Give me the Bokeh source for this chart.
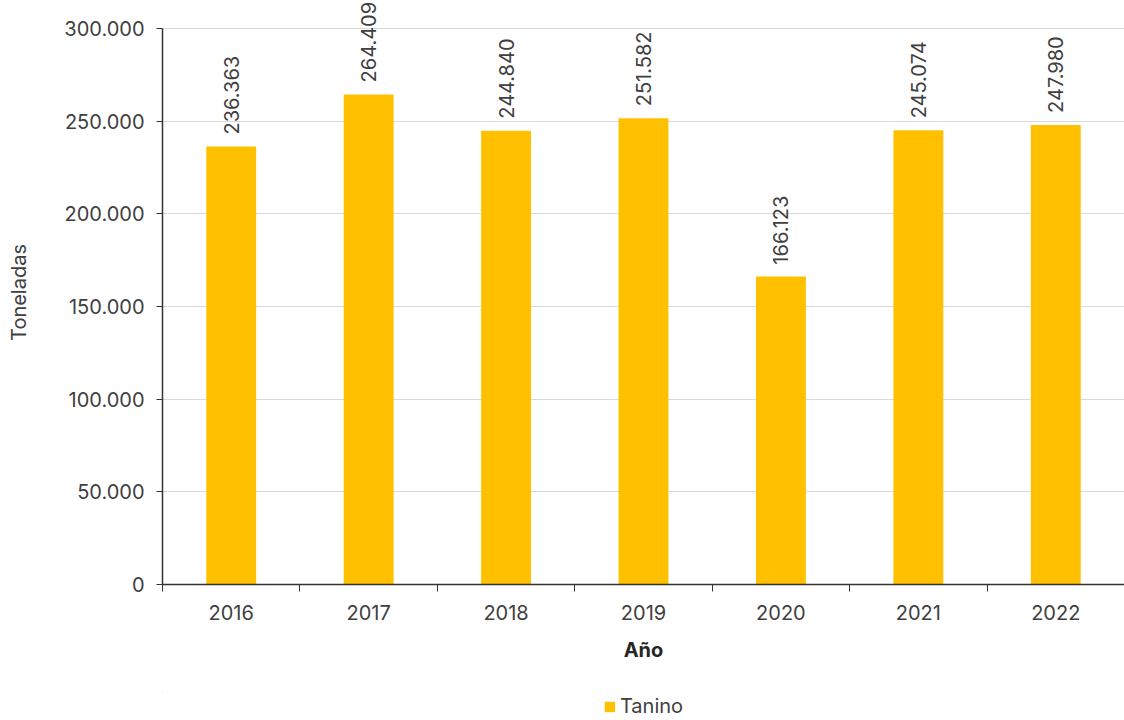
from bokeh.plotting import figure
from bokeh.layouts import column
from bokeh.models import ColumnDataSource, FixedTicker, LabelSet, Legend, LegendItem, Range1d
from bokeh.core.properties import value
from bokeh.embed import file_html
from bokeh.resources import INLINE
import math

years = ["2016", "2017", "2018", "2019", "2020", "2021", "2022"]
tanino = [236363, 264409, 244840, 251582, 166123, 245074, 247980]
y_ticks = [0, 50000, 100000, 150000, 200000, 250000, 300000]
series_name = "Tanino"

def fmt(v):
    return f"{v:,}".replace(",", ".")

xs = [i + 0.5 for i in range(len(years))]
src = ColumnDataSource(dict(x=xs, top=tanino, label=[fmt(v) for v in tanino]))

FONT = "Inter"
TXT = "#404040"
FS = "20px"
BAR = "#FFC000"

# frame: top of figure at 0, 300.000 sits 28px below it; 0 at 584
YMAX = 300000 * 584 / 556

p = figure(frame_width=962, frame_height=584, output_backend="svg", toolbar_location=None,
           x_range=Range1d(0, len(years)), y_range=Range1d(0, YMAX),
           min_border_left=162, min_border_right=0, min_border_top=0, min_border_bottom=108)
p.outline_line_color = None
p.xgrid.grid_line_color = None
p.ygrid.grid_line_color = "#d9d9d9"
p.ygrid.grid_line_width = 1

p.vbar(x="x", top="top", width=0.363, source=src, color=BAR, line_color=None)

labels = LabelSet(x="x", y="top", text="label", source=src, angle=math.pi / 2,
                  text_align="left", text_baseline="middle", y_offset=12,
                  text_font=value(FONT), text_font_size=value(FS), text_color=TXT)
p.add_layout(labels)

# y axis
p.yaxis.ticker = FixedTicker(ticks=y_ticks)
p.yaxis.bounds = (0, 300000)
p.yaxis.major_label_overrides = {t: fmt(t) for t in y_ticks}
p.yaxis.major_label_text_font = FONT
p.yaxis.major_label_text_font_size = FS
p.yaxis.major_label_text_color = TXT
p.yaxis.axis_line_color = "#333333"
p.yaxis.axis_line_width = 1.5
p.yaxis.major_tick_line_color = "#333333"
p.yaxis.major_tick_in = 0
p.yaxis.major_tick_out = 6
p.yaxis.minor_tick_line_color = None
p.yaxis.major_label_standoff = 12
p.yaxis.axis_label = "Toneladas"
p.yaxis.axis_label_text_font = FONT
p.yaxis.axis_label_text_font_size = FS
p.yaxis.axis_label_text_font_style = "normal"
p.yaxis.axis_label_text_color = TXT
p.yaxis.axis_label_standoff = 30

# x axis
p.xaxis.ticker = FixedTicker(ticks=xs, minor_ticks=list(range(len(years) + 1)))
p.xaxis.major_label_overrides = {x: y for x, y in zip(xs, years)}
p.xaxis.major_label_text_font = FONT
p.xaxis.major_label_text_font_size = FS
p.xaxis.major_label_text_color = TXT
p.xaxis.major_tick_line_color = None
p.xaxis.minor_tick_line_color = "#333333"
p.xaxis.minor_tick_in = 0
p.xaxis.minor_tick_out = 7
p.xaxis.axis_line_color = "#333333"
p.xaxis.axis_line_width = 1.5
p.xaxis.major_label_standoff = 13
p.xaxis.axis_label = "Año"
p.xaxis.axis_label_text_font = FONT
p.xaxis.axis_label_text_font_size = FS
p.xaxis.axis_label_text_font_style = "bold"
p.xaxis.axis_label_text_color = "#262626"
p.xaxis.axis_label_standoff = 15

# legend strip below the chart (its bars lie far outside the visible ranges)
n = len(years)
lg = figure(frame_width=962, frame_height=28, output_backend="svg", toolbar_location=None,
            x_range=Range1d(n + 100, n + 101), y_range=Range1d(-2, -1),
            min_border_left=162, min_border_right=0, min_border_top=0, min_border_bottom=0)
lg.outline_line_color = None
lg.axis.visible = False
lg.grid.visible = False
lr = lg.vbar(x="x", top="top", width=0.363, source=src, color=BAR, line_color=None)
legend = Legend(items=[LegendItem(label=series_name, renderers=[lr])], location="center",
                orientation="horizontal", label_text_font=FONT, label_text_font_size=FS,
                label_text_color=TXT, glyph_width=13, glyph_height=13, border_line_color=None,
                background_fill_alpha=0, label_standoff=4, margin=0, padding=0)
lg.add_layout(legend)

layout = column(p, lg, spacing=0)
open("out.html", "w").write(file_html(layout, INLINE))
